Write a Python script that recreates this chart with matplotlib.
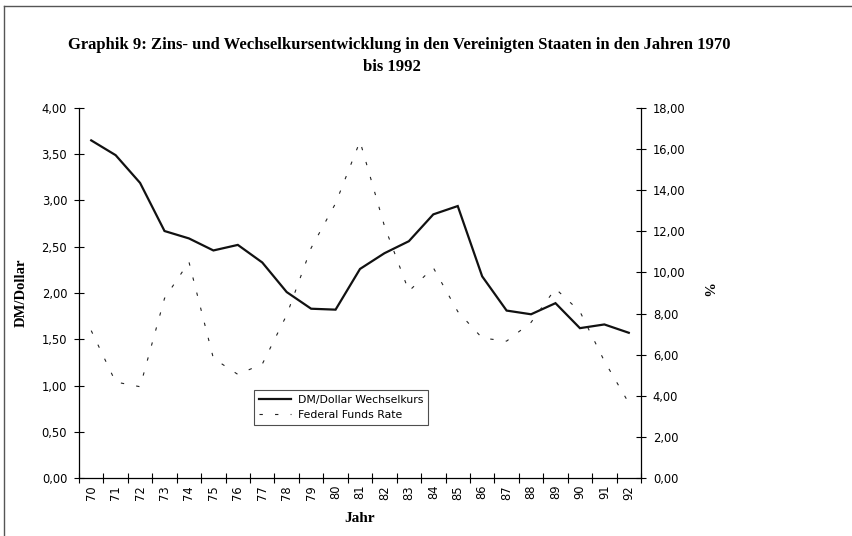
import numpy as np
import matplotlib
matplotlib.use("Agg")
import matplotlib.pyplot as plt
from matplotlib.ticker import FixedLocator, FuncFormatter, NullFormatter

# ---- data ----
years = ["70", "71", "72", "73", "74", "75", "76", "77", "78", "79", "80", "81",
         "82", "83", "84", "85", "86", "87", "88", "89", "90", "91", "92"]
dm_dollar = [3.65, 3.49, 3.19, 2.67, 2.59, 2.46, 2.52, 2.33, 2.01, 1.83, 1.82, 2.26,
             2.43, 2.56, 2.85, 2.94, 2.18, 1.81, 1.77, 1.89, 1.62, 1.66, 1.57]
fed_funds = [7.17, 4.67, 4.44, 8.74, 10.51, 5.82, 5.04, 5.54, 7.93, 11.19, 13.36, 16.38,
             12.26, 9.09, 10.23, 8.10, 6.81, 6.66, 7.57, 9.21, 8.10, 5.69, 3.65]
left_ticks = [0, 0.5, 1.0, 1.5, 2.0, 2.5, 3.0, 3.5, 4.0]
right_ticks = [0, 2, 4, 6, 8, 10, 12, 14, 16, 18]

title_line1 = "Graphik 9: Zins- und Wechselkursentwicklung in den Vereinigten Staaten in den Jahren 1970"
title_line2 = "bis 1992"
label_dm = "DM/Dollar Wechselkurs"
label_ff = "Federal Funds Rate"

W, H = 852, 536
fig = plt.figure(figsize=(W / 100, H / 100), dpi=100)
fig.patch.set_facecolor("white")

def px(x, y):
    return x / W, 1 - y / H

# axes geometry (pixels)
L, R, T, B = 79, 641, 108, 478
ax = fig.add_axes([L / W, 1 - B / H, (R - L) / W, (B - T) / H])
ax2 = ax.twinx()

n = len(years)
x = np.arange(n) + 0.5

tick_font = "DejaVu Sans"
fs_tick = 8.3

ax.plot(x, dm_dollar, color="#111111", lw=1.6, solid_joinstyle="miter", label=label_dm)
ln2, = ax2.plot(x, fed_funds, color="#222222", lw=0.8, label=label_ff)
ln2.set_dashes([3.0, 11.0])

ax.set_xlim(0, n)
ax.set_ylim(0, 4)
ax2.set_ylim(0, 18)

ax.xaxis.set_major_locator(FixedLocator(np.arange(n + 1)))
ax.xaxis.set_major_formatter(NullFormatter())
ax.xaxis.set_minor_locator(FixedLocator(x))
ax.set_xticklabels(years, minor=True, rotation=90, fontsize=fs_tick, family=tick_font)
ax.tick_params(axis="x", which="minor", length=0, pad=5)
ax.tick_params(axis="x", which="major", direction="inout", length=7, width=0.8)

fmt = FuncFormatter(lambda v, p: f"{v:.2f}".replace(".", ","))
ax.yaxis.set_major_locator(FixedLocator(left_ticks))
ax.yaxis.set_major_formatter(fmt)
ax2.yaxis.set_major_locator(FixedLocator(right_ticks))
ax2.yaxis.set_major_formatter(fmt)
for a in (ax, ax2):
    a.tick_params(axis="y", direction="inout", length=7, width=0.8, labelsize=fs_tick, pad=5)
    for lab in a.get_yticklabels():
        lab.set_family(tick_font)
    a.spines["top"].set_visible(False)
    for s in ("left", "right", "bottom"):
        a.spines[s].set_linewidth(0.9)
ax.spines["right"].set_visible(False)
ax2.spines["left"].set_visible(False)
ax2.spines["bottom"].set_visible(False)
ax.patch.set_visible(False)

# legend
handles = [ax.get_lines()[0], ln2]
leg = ax2.legend(handles, [label_dm, label_ff], loc="lower left",
                 bbox_to_anchor=((254 - L) / (R - L), (B - 425) / (B - T)),
                 frameon=True, fancybox=False, shadow=False, borderpad=0.45,
                 handlelength=3.0, handletextpad=0.6, labelspacing=0.45,
                 borderaxespad=0, prop={"family": tick_font, "size": 7.8})
leg.get_frame().set_edgecolor("#222222")
leg.get_frame().set_linewidth(0.8)

# titles and labels
serif = "Liberation Serif"
fig.text(*px(399, 45), title_line1, ha="center", va="center", fontsize=12.0,
         fontweight="bold", family=serif)
fig.text(*px(392, 67), title_line2, ha="center", va="center", fontsize=12.0,
         fontweight="bold", family=serif)
fig.text(*px(21, 293), "DM/Dollar", ha="center", va="center", rotation=90,
         fontsize=10.5, fontweight="bold", family=serif)
fig.text(*px(706, 290), "%", ha="center", va="center", rotation=270,
         fontsize=10.5, fontweight="bold", family=serif)
fig.text(*px(360, 518), "Jahr", ha="center", va="center", fontsize=11,
         fontweight="bold", family=serif)

# page frame lines (top and left)
fig.add_artist(plt.Line2D([4 / W, 1], [1 - 6 / H, 1 - 6 / H], transform=fig.transFigure,
                          color="#555555", lw=1.0))
fig.add_artist(plt.Line2D([4 / W, 4 / W], [0, 1 - 6 / H], transform=fig.transFigure,
                          color="#555555", lw=1.0))

fig.savefig("out.png", dpi=100)
